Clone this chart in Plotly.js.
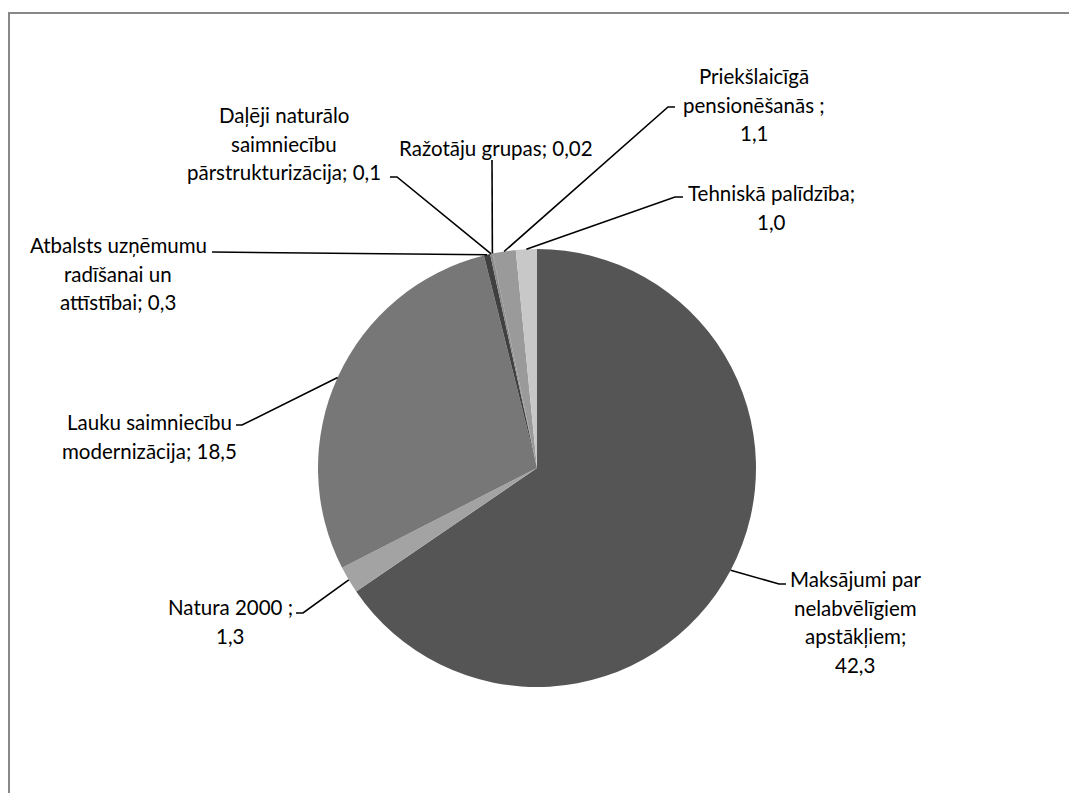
<!DOCTYPE html>
<html>
<head>
<meta charset="utf-8">
<script src="https://cdn.plot.ly/plotly-3.0.1.min.js"></script>
<style>html,body{margin:0;padding:0;background:#fff;}#chart{width:1069px;height:793px;}</style>
</head>
<body>
<div id="chart"></div>
<script>
// ---- data ----
var categories = ["Maksājumi par nelabvēlīgiem apstākļiem", "Natura 2000", "Lauku saimniecību modernizācija",
  "Atbalsts uzņēmumu radīšanai un attīstībai", "Daļēji naturālo saimniecību pārstrukturizācija",
  "Ražotāju grupas", "Priekšlaicīgā pensionēšanās", "Tehniskā palīdzība"];
var values = [42.3, 1.3, 18.5, 0.3, 0.1, 0.02, 1.1, 1.0];
var decimals = [1, 1, 1, 1, 1, 2, 1, 1];
var labelTemplates = [
  "Maksājumi par|nelabvēlīgiem|apstākļiem;|{v}",
  "Natura 2000 ;|{v}",
  "Lauku saimniecību|modernizācija; {v}",
  "Atbalsts uzņēmumu|radīšanai un|attīstībai; {v}",
  "Daļēji naturālo|saimniecību|pārstrukturizācija; {v}",
  "Ražotāju grupas; {v}",
  "Priekšlaicīgā|pensionēšanās ;|{v}",
  "Tehniskā palīdzība;|{v}"
];
var colors = ["#555555", "#a3a3a3", "#777777", "#404040", "#8a8a8a", "#666666", "#9a9a9a", "#c8c8c8"];

// ---- layout geometry (pixels) ----
var W = 1069, H = 793;
var CX = 537, CY = 468, R = 219;
// label placement: text centre x, first line y, elbow point, end of short horizontal
var labelPos = [
  {cx: 855, y: 579, ex: 779, ey: 584, hx: 786},
  {cx: 230, y: 607, ex: 303, ey: 613, hx: 296},
  {cx: 149, y: 422, ex: 242, ey: 425, hx: 236},
  {cx: 118, y: 245, ex: 212, ey: 252, hx: 212},
  {cx: 284, y: 115, ex: 397, ey: 177, hx: 390},
  {cx: 496, y: 148, ex: 492, ey: 160, hx: 492},
  {cx: 754, y: 76, ex: 668, ey: 107, hx: 675},
  {cx: 771, y: 193, ex: 675, ey: 197, hx: 683}
];
var LINE = 28.5;
var FONT = {family: "Lato, 'Open Sans', sans-serif", size: 20.5, color: "#000"};

function px(x) { return x / W; }
function py(y) { return 1 - y / H; }
function fmt(v, d) { return v.toFixed(d).replace(".", ","); }

var total = values.reduce(function (a, b) { return a + b; }, 0);
var annotations = [];
var shapes = [];
var cum = 0;
values.forEach(function (v, i) {
  var mid = (cum + v / 2) / total * 2 * Math.PI;
  cum += v;
  var tx = CX + R * Math.sin(mid), ty = CY - R * Math.cos(mid);
  var p = labelPos[i];
  shapes.push({type: "path", xref: "paper", yref: "paper",
    path: "M" + px(tx) + "," + py(ty) + " L" + px(p.ex) + "," + py(p.ey) + " L" + px(p.hx) + "," + py(p.ey),
    line: {color: "#000", width: 1.6}});
  var lines = labelTemplates[i].replace("{v}", fmt(v, decimals[i])).split("|");
  lines.forEach(function (t, k) {
    annotations.push({xref: "paper", yref: "paper", x: px(p.cx), y: py(p.y + k * LINE),
      text: t, showarrow: false, xanchor: "center", yanchor: "middle", font: FONT});
  });
});
// outer frame
shapes.push({type: "rect", xref: "paper", yref: "paper", x0: px(9), x1: 1.1, y0: -0.1, y1: py(13),
  line: {color: "#888888", width: 2}, fillcolor: "rgba(0,0,0,0)"});

var trace = {
  type: "pie", labels: categories, values: values, sort: false, direction: "clockwise", rotation: 0,
  marker: {colors: colors, line: {width: 0}}, textinfo: "none", hoverinfo: "label+value",
  domain: {x: [px(CX - R), px(CX + R)], y: [py(CY + R), py(CY - R)]}
};
Plotly.newPlot("chart", [trace], {
  width: W, height: H, margin: {l: 0, r: 0, t: 0, b: 0}, showlegend: false,
  paper_bgcolor: "#fff", annotations: annotations, shapes: shapes
}, {displayModeBar: false});
</script>
</body>
</html>
